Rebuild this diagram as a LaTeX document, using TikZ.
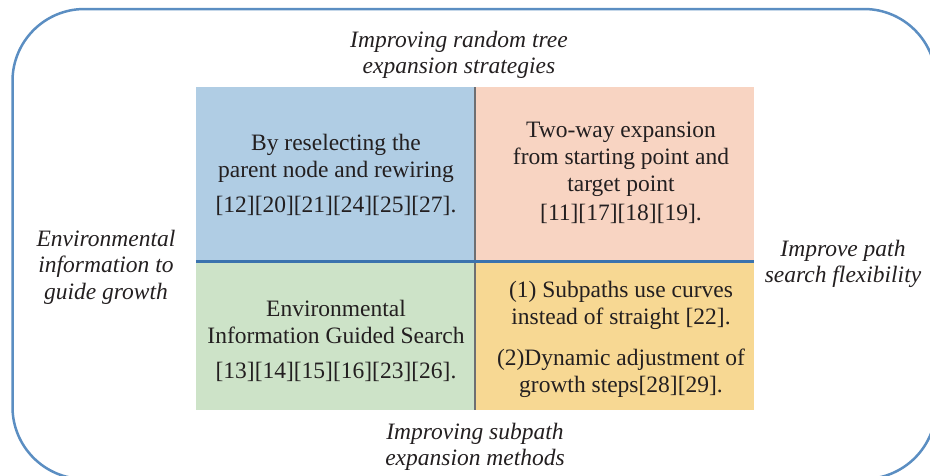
\documentclass[tikz,border=0pt]{standalone}
\usepackage{fontspec}
\setmainfont{Liberation Serif}
\definecolor{frameblue}{HTML}{5B8EC2}
\definecolor{qblue}{HTML}{B0CDE4}
\definecolor{qpink}{HTML}{F8D4C2}
\definecolor{qgreen}{HTML}{CDE3C8}
\definecolor{qyellow}{HTML}{F7D893}
\definecolor{hline}{HTML}{3B73AE}
\definecolor{vline}{HTML}{6E6F72}
\definecolor{ink}{HTML}{231F20}
\begin{document}
\begin{tikzpicture}[x=1pt,y=-1pt,
  body/.style={font=\fontsize{23.5}{27}\selectfont,align=center,text=ink,inner sep=0pt},
  side/.style={font=\fontsize{23.5}{26.5}\selectfont\itshape,align=center,text=ink,inner sep=0pt}]
\useasboundingbox (0,0) rectangle (930,475);

% outer rounded frame (runs past the right and bottom edges)
\draw[frameblue,line width=2.5pt,rounded corners=72pt] (12.5,9) rectangle (936,479);

% four quadrants
\fill[qblue]   (196,87)    rectangle (475,261.5);
\fill[qpink]   (475,87)    rectangle (754,261.5);
\fill[qgreen]  (196,261.5) rectangle (475,410);
\fill[qyellow] (475,261.5) rectangle (754,410);

% dividers
\coordinate (vtop) at (475,87);
\coordinate (vbot) at (475,410);
\coordinate (hl) at (196,261.5);
\coordinate (hr) at (754,261.5);
\draw[vline,line width=2.5pt] (vtop) -- (vbot);
\draw[hline,line width=2.5pt] (hl) -- (hr);

% quadrant texts
\node[body] (tl) at (336,175) {By reselecting the\\parent node and rewiring\\[8pt][12][20][21][24][25][27].};
\node[body] (tr) at (621,172.5) {Two-way expansion\\from starting point and\\target point\\[2pt][11][17][18][19].};
\node[body] (bl) at (336,340.5) {Environmental\\Information Guided Search\\[8pt][13][14][15][16][23][26].};
\node[body] (br) at (621,339.5) {(1) Subpaths use curves\\instead of straight [22].\\[14pt](2)Dynamic adjustment of\\growth steps[28][29].};

% axis labels
\node[side] (top) at (459,55) {Improving random tree\\expansion strategies};
\node[side] (left) at (106,267) {Environmental\\information to\\guide growth};
\node[side] (right) at (843,264) {Improve path\\search flexibility};
\node[side] (bottom) at (475,447) {Improving subpath\\expansion methods};
\end{tikzpicture}
\end{document}
